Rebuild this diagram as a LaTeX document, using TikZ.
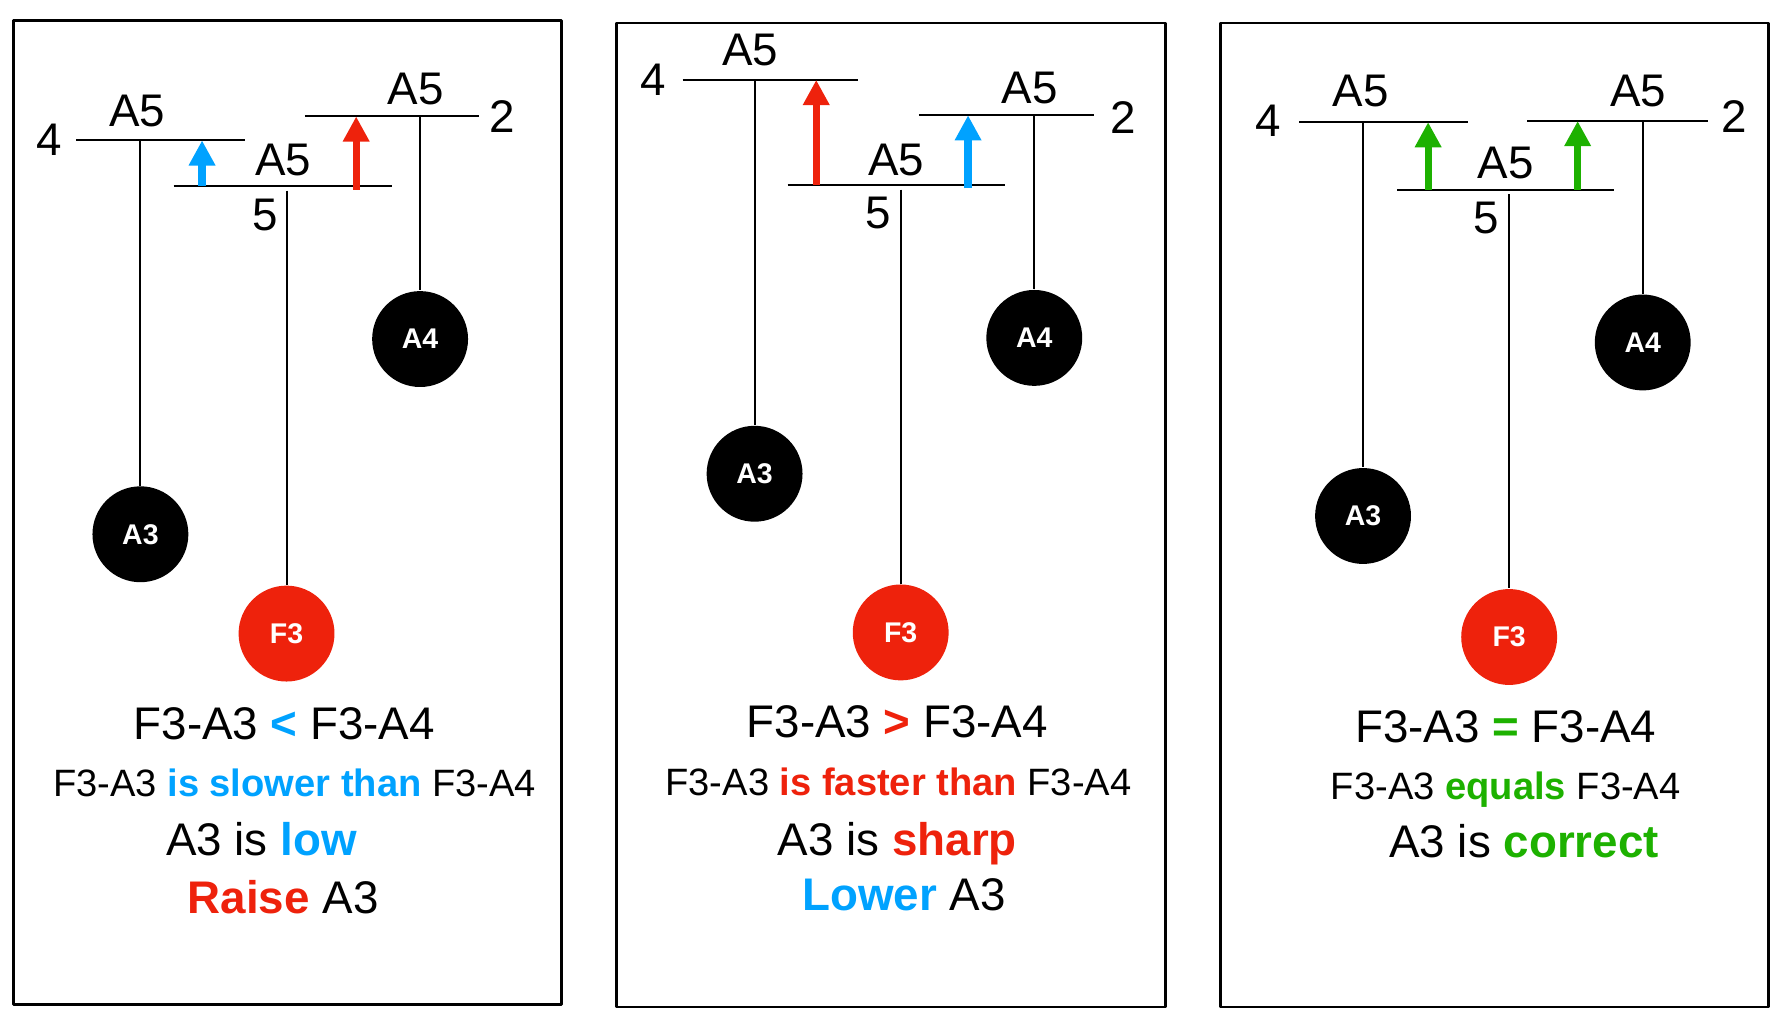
\documentclass[tikz,border=0pt]{standalone}
\usepackage{fontspec}
\setmainfont{Liberation Sans}
\usetikzlibrary{arrows.meta}
\definecolor{keyblue}{HTML}{00A2FF}
\definecolor{keyred}{HTML}{EE220C}
\definecolor{keygreen}{HTML}{1DB100}
\begin{document}
\begin{tikzpicture}[x=0.1mm, y=-0.1mm, line join=round,
	font=\fontsize{11.4}{13}\selectfont,
	ball/.style={circle, fill=black, minimum size=8.4mm, inner sep=0pt, text=white,
		font=\fontsize{7.1}{8}\selectfont\bfseries},
	redball/.style={ball, fill=keyred},
	frame/.style={line width=0.6pt},
	lvl/.style={line width=0.5pt},
	rise/.style={line width=1.8pt, -{Triangle[width=2.2mm,length=2.2mm]}},
	txt/.style={anchor=base, inner sep=0pt},
	small/.style={txt, font=\fontsize{9.5}{11}\selectfont}]
	\useasboundingbox (0,0) rectangle (1568,897);
	% panel 1: A3 is low
	\draw[frame] (12,18) rectangle (492,880);
	\draw[lvl] (67,123)--(215,123) (152,163)--(343,163) (267,102)--(420,102);
	\path (43,122) node{4} (120,97) node{A5} (248,140) node{A5}
		(232,188) node{5} (364,78) node{A5} (440,102) node{2};
	\node[ball] (a3-1) at (123,468) {A3};
	\node[redball] (f3-1) at (251,555) {F3};
	\node[ball] (a4-1) at (368,297) {A4};
	\coordinate (t3-1) at (123,123);
	\coordinate (tf-1) at (251,167);
	\coordinate (t4-1) at (368,102);
	\draw[lvl] (t3-1)--(a3-1) (tf-1)--(f3-1) (t4-1)--(a4-1);
	\draw[rise, keyblue] (177,163)--(177,123);
	\draw[rise, keyred] (312,166)--(312,102);
	\node[txt] at (249,648) {F3-A3 \textcolor{keyblue}{\textbf{<}} F3-A4};
	\node[small] at (258,698) {F3-A3 \textcolor{keyblue}{\textbf{is slower than}} F3-A4};
	\node[txt] at (229,749) {A3 is \textcolor{keyblue}{\textbf{low}}};
	\node[txt] at (248,800) {\textcolor{keyred}{\textbf{Raise}} A3};
	% panel 2: A3 is sharp
	\draw[frame] (540,20) rectangle (1021,882);
	\draw[lvl] (598,70)--(752,70) (690,162)--(880,162) (805,101)--(958,101);
	\path (572,70) node{4} (657,44) node{A5} (785,140) node{A5}
		(769,187) node{5} (902,77) node{A5} (984,103) node{2};
	\node[ball] (a3-2) at (661,415) {A3};
	\node[redball] (f3-2) at (789,554) {F3};
	\node[ball] (a4-2) at (906,296) {A4};
	\coordinate (t3-2) at (661,70);
	\coordinate (tf-2) at (789,166);
	\coordinate (t4-2) at (906,101);
	\draw[lvl] (t3-2)--(a3-2) (tf-2)--(f3-2) (t4-2)--(a4-2);
	\draw[rise, keyred] (715,162)--(715,70);
	\draw[rise, keyblue] (848,165)--(848,101);
	\node[txt] at (786,646) {F3-A3 \textcolor{keyred}{\textbf{>}} F3-A4};
	\node[small] at (787,697) {F3-A3 \textcolor{keyred}{\textbf{is faster than}} F3-A4};
	\node[txt] at (786,749) {A3 is \textcolor{keyred}{\textbf{sharp}}};
	\node[txt] at (792,798) {\textcolor{keyblue}{\textbf{Lower}} A3};
	% panel 3: A3 is correct
	\draw[frame] (1069,20) rectangle (1549,882);
	\draw[lvl] (1138,107)--(1286,107) (1224,166)--(1414,166) (1338,106)--(1496,106);
	\path (1111,106) node{4} (1192,80) node{A5} (1319,143) node{A5}
		(1302,191) node{5} (1435,80) node{A5} (1519,102) node{2};
	\node[ball] (a3-3) at (1194,452) {A3};
	\node[redball] (f3-3) at (1322,558) {F3};
	\node[ball] (a4-3) at (1439,300) {A4};
	\coordinate (t3-3) at (1194,107);
	\coordinate (tf-3) at (1322,170);
	\coordinate (t4-3) at (1439,106);
	\draw[lvl] (t3-3)--(a3-3) (tf-3)--(f3-3) (t4-3)--(a4-3);
	\draw[rise, keygreen] (1251,166)--(1251,107);
	\draw[rise, keygreen] (1382,166)--(1382,106);
	\node[txt] at (1319,650) {F3-A3 \textcolor{keygreen}{\textbf{=}} F3-A4};
	\node[small] at (1319,700) {F3-A3 \textcolor{keygreen}{\textbf{equals}} F3-A4};
	\node[txt] at (1335,751) {A3 is \textcolor{keygreen}{\textbf{correct}}};
\end{tikzpicture}
\end{document}
